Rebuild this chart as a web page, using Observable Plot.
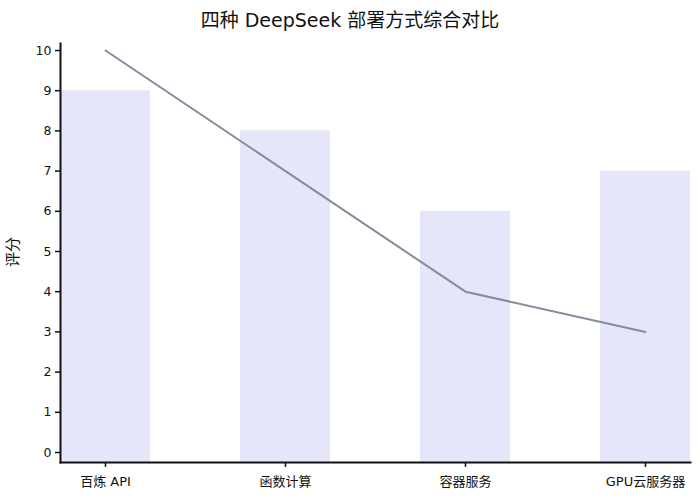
<!DOCTYPE html>
<html><head><meta charset="utf-8">
<script src="https://cdn.jsdelivr.net/npm/d3@7"></script>
<script src="https://cdn.jsdelivr.net/npm/@observablehq/plot@0.6"></script>
<style>
body{margin:0;background:#fff;font-family:"DejaVu Sans","Noto Sans CJK SC",sans-serif;}
#title{height:34px;line-height:40px;text-align:center;font-size:19px;color:#111;font-family:"DejaVu Sans","Noto Sans CJK SC",sans-serif;}
</style></head>
<body>
<div id="title">四种 DeepSeek 部署方式综合对比</div>
<div id="chart"></div>
<script>
const categories = ["百炼 API", "函数计算", "容器服务", "GPU云服务器"];
const barValues = [9, 8, 6, 7];
const lineValues = [10, 7, 4, 3];
const yTicks = [0,1,2,3,4,5,6,7,8,9,10];
const yLabel = "评分";

const data = categories.map((c, i) => ({cat: c, bar: barValues[i], line: lineValues[i]}));

const chart = Plot.plot({
  width: 700,
  height: 466,
  marginLeft: 60,
  marginRight: 10,
  marginTop: 9,
  marginBottom: 38,
  style: {fontFamily: '"DejaVu Sans","Noto Sans CJK SC",sans-serif', fontSize: "12px", color: "#111", background: "#fff"},
  x: {domain: categories, paddingInner: 0.5, paddingOuter: 0, align: 0.5, label: null},
  y: {domain: [0, 10], insetTop: 7, insetBottom: 10, label: null},
  marks: [
    Plot.barY(data, {x: "cat", y: "bar", fill: "#e6e6fa", insetBottom: -10}),
    Plot.lineY(data, {x: "cat", y: "line", stroke: "#838b9d", strokeWidth: 2}),
    Plot.axisX({tickSize: 5, tickPadding: 9, fontSize: 13, label: null, stroke: "#111", strokeWidth: 1.5}),
    Plot.axisY({ticks: yTicks, tickFormat: d3.format("d"), tickSize: 5, tickPadding: 4, fontSize: 12.5, label: null, stroke: "#111", strokeWidth: 1.5}),
    Plot.text([yLabel], {frameAnchor: "left", dx: -47, dy: 14, rotate: -90, fontSize: 15, fill: "#111"}),
    Plot.frame({anchor: "left", stroke: "#111", strokeWidth: 2}),
    Plot.frame({anchor: "bottom", stroke: "#111", strokeWidth: 2})
  ]
});
document.getElementById("chart").appendChild(chart);
</script>
</body></html>
